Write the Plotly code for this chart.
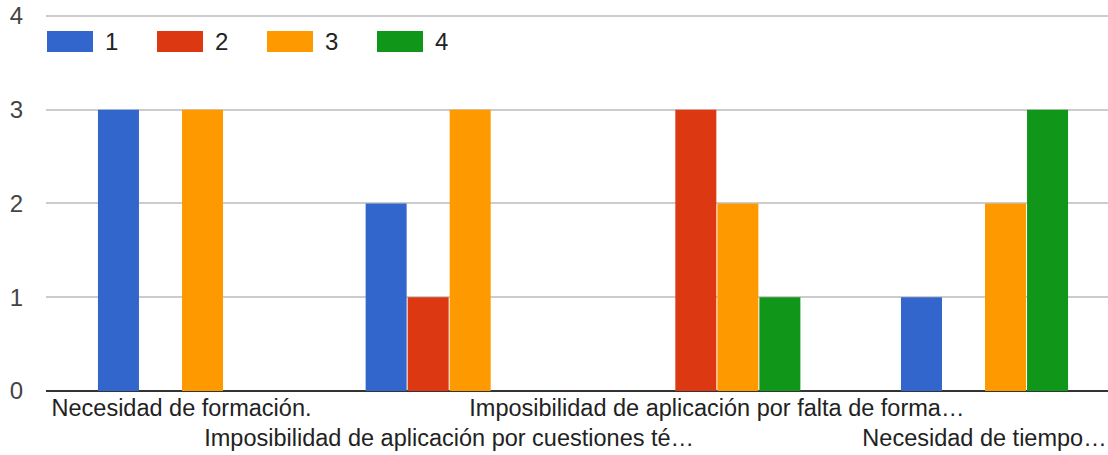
import plotly.graph_objects as go

categories = [
    "Necesidad de formación.",
    "Imposibilidad de aplicación por cuestiones té…",
    "Imposibilidad de aplicación por falta de forma…",
    "Necesidad de tiempo…",
]
series_names = ["1", "2", "3", "4"]
values_1 = [3, 2, 0, 1]
values_2 = [0, 1, 3, 0]
values_3 = [3, 3, 2, 2]
values_4 = [0, 0, 1, 3]
colors = ["#3366cc", "#dc3912", "#ff9900", "#109618"]
y_ticks = [0, 1, 2, 3, 4]

series_values = [values_1, values_2, values_3, values_4]

W, H = 1108, 455
YTOP = 4.02
ML, MR = 46, 0
MB = 455 - 391
MT = int(round(16 - (YTOP - 4) * 93.75))
PW = W - ML - MR
PH = H - MT - MB
FONT = "Arial, Liberation Sans, sans-serif"
FS = 24

fig = go.Figure()
x_idx = list(range(len(categories)))
for name, vals, col in zip(series_names, series_values, colors):
    fig.add_trace(go.Bar(x=x_idx, y=vals, name=name, marker_color=col,
                         marker_line_width=0, showlegend=False))

# staggered category labels
ticktext = [c if i % 2 == 0 else "<br>" + c for i, c in enumerate(categories)]

step = 267.67
x0 = -0.5 - (181.5 - (ML + 0.5 * step)) / step
x1 = x0 + PW / step


def py_to_paper(py):
    return ((H - MB) - py) / PH


def px_to_paper(px):
    return (px - ML) / PW


fig.update_layout(
    width=W, height=H,
    margin=dict(l=ML, r=MR, t=MT, b=MB, autoexpand=False),
    paper_bgcolor="white", plot_bgcolor="white",
    barmode="group", bargap=0.372, bargroupgap=0.024,
    font=dict(family=FONT, size=FS, color="#222222"),
    xaxis=dict(range=[x0, x1], tickmode="array", tickvals=x_idx, ticktext=ticktext,
               tickangle=0, showgrid=False, ticks="", showline=False, zeroline=False,
               ticklabeloverflow="allow",
               tickfont=dict(size=23.5, color="#222222")),
    yaxis=dict(range=[0, YTOP], tickvals=y_ticks, showgrid=True, gridcolor="#cccccc",
               gridwidth=2, zeroline=True, zerolinecolor="#333333", zerolinewidth=2,
               ticks="", tickfont=dict(size=FS, color="#444444"),
               ticklabeloverflow="allow", ticklabelstandoff=22),
)

# custom legend: large swatches as in the reference
leg_x0 = 47
pitch = 110
sw_w, sw_h = 46, 21
sw_top = 31
for i, (name, col) in enumerate(zip(series_names, colors)):
    px0 = leg_x0 + i * pitch
    fig.add_shape(type="rect", xref="paper", yref="paper",
                  x0=px_to_paper(px0), x1=px_to_paper(px0 + sw_w),
                  y0=py_to_paper(sw_top + sw_h), y1=py_to_paper(sw_top),
                  fillcolor=col, line_width=0, layer="above")
    fig.add_annotation(xref="paper", yref="paper",
                       x=px_to_paper(px0 + sw_w + 10), y=py_to_paper(sw_top + sw_h / 2),
                       text=name, showarrow=False, xanchor="left", yanchor="middle",
                       font=dict(family=FONT, size=FS, color="#222222"))

fig.write_html("out.html",
               config={"displayModeBar": False},
               post_script="document.body.style.margin='0';document.body.style.overflow='hidden';")
